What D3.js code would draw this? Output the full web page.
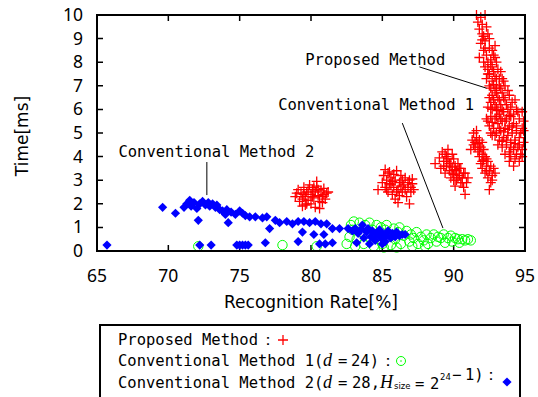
<!DOCTYPE html>
<html>
<head>
<meta charset="utf-8">
<script src="https://cdn.jsdelivr.net/npm/d3@7"></script>
<style>
  body { margin: 0; background: #fff; }
  svg { display: block; }
  .tick-label { font-family: "Noto Sans", sans-serif; font-size: 17.5px; fill: #000; }
  .axis-title { font-family: "DejaVu Sans", sans-serif; font-size: 17px; fill: #000; }
  .mono { font-family: "DejaVu Sans Mono", monospace; font-size: 15.5px; fill: #000; }
</style>
</head>
<body>
<div id="chart"></div>
<script>
// x = recognition rate [%], y = time [ms]
const proposedPoints = [
  // cluster near 80 %
  [78.9,2.3],[79.1,2.6],[79.2,2.1],[79.3,2.45],[79.4,1.9],[79.5,2.7],[79.6,2.3],[79.7,2.5],[79.8,2.15],[79.9,2.8],
  [80.0,2.4],[80.0,2.0],[80.1,2.6],[80.2,2.25],[80.3,2.5],[80.3,1.85],[80.4,2.75],[80.5,2.35],[80.6,2.1],[80.7,2.55],
  [80.8,2.3],[80.9,2.65],[81.0,2.2],[81.1,2.45],[80.4,2.95],[79.6,1.95],[81.2,2.5],[80.6,1.8],
  [79.0,2.45],[79.4,2.2],[79.8,2.6],[80.1,2.3],[80.5,2.6],[80.8,2.05],[80.2,2.7],[79.7,2.0],[80.9,2.4],[79.5,2.4],
  // cluster near 86 %
  [84.7,2.6],[85.0,2.9],[85.1,3.2],[85.2,2.7],[85.3,3.0],[85.4,2.5],[85.4,3.3],[85.5,2.85],[85.6,3.1],[85.7,2.4],
  [85.8,2.7],[85.9,3.0],[85.9,2.2],[86.0,3.4],[86.1,2.6],[86.2,2.9],[86.3,3.2],[86.4,2.5],[86.5,2.8],[86.6,3.1],
  [86.7,2.3],[86.8,2.7],[86.9,3.0],[87.0,2.5],[87.1,2.85],[87.2,2.6],[86.9,2.0],[86.1,2.05],[85.2,3.45],[87.1,3.05],
  [85.3,2.6],[85.6,2.8],[85.8,3.25],[86.0,2.5],[86.3,2.75],[86.6,2.6],[86.8,2.9],[85.5,3.35],[86.4,3.0],[87.0,2.7],
  [85.7,2.95],[86.2,2.35],
  // cluster near 90 %
  [88.7,3.7],[89.0,3.95],[89.1,3.5],[89.2,4.2],[89.3,3.8],[89.4,3.3],[89.5,4.0],[89.5,3.6],[89.6,3.9],[89.7,3.4],
  [89.8,3.7],[89.8,3.1],[89.9,3.55],[90.0,3.9],[90.0,3.25],[90.1,3.6],[90.2,3.0],[90.2,3.4],[90.3,3.7],[90.4,3.2],
  [90.5,2.9],[90.5,3.5],[90.6,3.1],[90.7,2.7],[90.8,3.3],[90.8,2.4],[90.9,2.9],[91.0,3.1],[89.6,4.3],[90.1,2.75],
  [89.3,3.6],[89.5,3.8],[89.7,3.7],[89.9,3.3],[90.1,3.45],[90.3,3.1],[90.4,3.5],[90.6,2.9],[89.4,4.1],[90.0,3.0],
  [90.7,3.3],[89.9,4.1],
  // cluster near 92 %
  [91.3,4.7],[91.4,5.0],[91.5,4.4],[91.6,4.8],[91.7,4.2],[91.7,4.55],[91.8,4.0],[91.9,4.4],[91.9,3.7],[92.0,4.1],
  [92.0,3.5],[92.1,3.85],[92.2,3.3],[92.2,4.0],[92.3,3.6],[92.4,3.1],[92.4,3.8],[92.5,3.4],[92.6,2.9],[92.7,3.2],
  [92.8,3.5],[91.2,4.3],[92.5,2.6],[91.6,5.1],
  [91.5,4.6],[91.8,4.7],[91.8,4.3],[92.0,3.8],[92.1,4.3],[92.3,3.4],[92.3,3.9],[92.6,3.6],[92.7,3.0],[91.4,4.5],
  [92.0,4.6],[92.9,3.3],
  // long streak 92-95 %
  [91.6,10.0],[91.9,9.9],[91.8,9.4],[92.0,9.2],[91.9,8.8],[92.2,8.9],[92.1,8.5],[92.3,8.3],[91.8,8.2],[92.4,8.0],
  [92.2,7.8],[92.6,7.9],[92.5,7.5],[92.8,7.6],[92.3,7.3],[92.7,7.2],[93.0,7.3],[92.6,6.9],[92.9,6.8],[93.2,7.0],
  [92.5,6.5],[92.8,6.4],[93.1,6.5],[93.4,6.7],[92.4,6.1],[92.7,6.0],[93.0,6.1],[93.3,6.2],[93.6,6.4],[92.6,5.7],
  [92.9,5.6],[93.2,5.8],[93.5,5.9],[93.8,6.0],[92.5,5.3],[92.8,5.2],[93.1,5.4],[93.4,5.5],[93.7,5.6],[94.0,5.7],
  [92.7,4.9],[93.0,5.0],[93.3,5.1],[93.6,5.2],[93.9,5.3],[94.2,5.4],[93.2,4.7],[93.5,4.8],[93.8,4.9],[94.1,5.0],
  [94.4,5.1],[93.4,4.4],[93.7,4.5],[94.0,4.6],[94.3,4.7],[94.6,4.8],[93.9,4.2],[94.2,4.3],[94.5,4.4],[94.7,4.1],
  [94.3,3.9],[94.8,5.2],[94.6,5.6],[94.4,6.0],[94.1,6.3],[93.9,6.6],[93.6,7.0],[93.3,7.6],[93.0,8.0],[92.7,8.5],
  [92.5,9.0],[92.3,9.5],[92.9,8.7],[93.4,7.3],[94.9,4.6],[94.2,3.6],[92.2,10.0],[94.9,5.5],[94.8,4.0],[92.3,5.6],
  [91.7,9.7],[92.0,9.6],[92.1,9.1],[92.4,9.2],[92.0,8.95],[92.2,8.6],[92.5,8.6],[92.8,8.3],[92.1,8.0],[92.6,8.1],
  [92.9,8.2],[92.4,7.7],[92.7,7.8],[92.4,7.5],[92.9,7.4],[93.1,7.7],[93.2,7.3],[92.5,7.0],[92.8,7.05],[93.0,6.9],
  [93.3,6.9],[93.5,7.2],[92.7,6.6],[93.0,6.7],[93.2,6.4],[93.5,6.5],[93.8,6.8],[92.6,6.3],[92.6,6.05],[92.9,6.2],
  [93.1,5.95],[93.4,6.0],[93.7,6.2],[94.0,6.1],[94.3,6.4],[92.4,5.5],[92.7,5.45],[93.0,5.7],[93.3,5.6],[93.6,5.5],
  [93.9,5.75],[94.2,5.8],[94.5,5.9],[94.8,5.9],[92.6,5.0],[92.9,4.9],[93.2,5.2],[93.5,5.05],[93.8,5.15],[94.1,5.25],
  [94.4,5.3],[94.7,5.0],[94.9,5.1],[93.1,4.5],[93.4,4.65],[93.7,4.7],[94.0,4.4],[94.3,4.55],[94.6,4.5],[94.8,4.3],
  [93.6,4.1],[94.0,4.0],[94.4,4.1],[94.6,3.8],[93.9,3.8]
];

const conv1Points = [
  [72.1,0.2],[78.0,0.25],[80.4,0.2],
  [82.5,0.3],[82.7,0.6],[82.8,1.1],[82.9,0.9],[83.0,1.25],[83.1,0.2],[83.2,0.5],[83.4,1.2],[83.5,0.8],[83.7,0.3],
  [83.8,1.1],[84.0,0.6],[84.1,1.2],[84.3,0.9],[84.4,0.2],[84.6,1.1],[84.7,0.5],[84.9,1.0],[85.0,0.3],[85.2,0.9],
  [85.3,1.1],[85.5,0.6],[85.6,0.25],[85.8,0.95],[85.9,0.5],[86.1,0.8],[86.2,1.0],[86.3,0.3],[86.5,0.65],[86.7,0.85],
  [86.9,0.4],[87.0,0.7],[87.2,0.55],[87.4,0.8],[87.5,0.3],[87.7,0.6],[87.9,0.45],[88.1,0.7],[88.2,0.3],[88.4,0.55],
  [88.6,0.7],[88.8,0.4],[88.9,0.6],[89.1,0.55],[89.3,0.7],[89.4,0.35],[89.6,0.55],[89.8,0.65],[89.9,0.4],[90.1,0.55],
  [90.3,0.5],[90.4,0.35],[90.6,0.5],[90.8,0.45],[91.0,0.5],[91.2,0.45],[87.1,0.2],[88.0,0.2],[85.1,0.15],[86.0,0.15]
];

const conv2Points = [
  [65.7,0.25],[69.6,1.85],[70.5,1.6],[71.1,1.85],[71.3,2.0],[71.5,2.15],[71.6,1.9],[71.8,2.05],[72.0,1.8],[72.1,1.3],
  [72.2,2.0],[72.4,2.1],[72.6,1.95],[72.8,2.05],[72.9,1.9],[73.1,2.0],[73.3,1.85],[73.4,1.95],[73.6,1.75],[73.8,1.7],
  [74.0,1.55],[74.1,1.75],[74.2,1.2],[74.4,1.65],[74.7,1.55],[75.0,1.7],[75.2,1.6],[75.4,1.5],[75.7,1.45],[76.1,1.45],
  [76.6,1.4],[76.9,1.45],[77.1,0.95],[77.5,1.3],[77.8,1.2],[78.3,1.25],[78.7,1.15],[79.1,1.25],[79.5,1.25],[79.9,1.2],
  [80.3,1.25],[80.7,1.15],[81.1,1.15],[81.5,0.95],[82.0,0.95],[79.4,0.8],[79.1,0.4],[80.2,0.7],[80.9,0.7],[80.6,0.3],
  [81.0,0.3],[81.5,0.35],[72.2,0.25],[73.0,0.25],[74.8,0.25],[75.0,0.25],[75.2,0.25],[75.4,0.25],[75.6,0.25],[76.8,0.35],
  [82.6,0.95],[82.9,0.85],[83.1,0.95],[83.3,0.75],[83.2,0.35],[83.5,0.9],[83.7,0.55],[83.9,0.8],[84.0,0.95],[84.2,0.6],
  [84.3,0.85],[84.5,0.45],[84.6,0.7],[84.8,0.9],[84.9,0.55],[85.0,0.75],[85.2,0.4],[85.3,0.65],[85.4,0.85],[85.6,0.55],
  [85.7,0.75],[85.9,0.6],[86.0,0.8],[86.2,0.65],[86.4,0.7],[86.6,0.7],[84.1,0.3],[85.0,0.3],[83.6,1.1]
];

const xTicks = [65, 70, 75, 80, 85, 90, 95];
const yTicks = [0, 1, 2, 3, 4, 5, 6, 7, 8, 9, 10];

// annotation labels: text, text anchor point, arrow line from -> to (data coords)
const annotations = [
  {text: "Proposed Method", at: [79.6, 8.1], from: [87.6, 7.8], to: [92.3, 6.9]},
  {text: "Conventional Method 1", at: [77.7, 6.2], from: [86.4, 5.42], to: [89.25, 0.97]},
  {text: "Conventional Method 2", at: [66.5, 4.2], from: [72.7, 3.77], to: [72.7, 2.37]}
];

const W = 538, H = 397;
const margin = {top: 15, right: 13, bottom: 146, left: 97};
const width = W - margin.left - margin.right;
const height = H - margin.top - margin.bottom;

const svg = d3.select("#chart").append("svg")
  .attr("width", W).attr("height", H);

const g = svg.append("g").attr("transform", `translate(${margin.left},${margin.top})`);

const x = d3.scaleLinear().domain([65, 95]).range([0, width]);
const y = d3.scaleLinear().domain([0, 10]).range([height, 0]);

// ticks, mirrored on all four sides, pointing inwards
const tl = 6;
g.selectAll(".xt").data(xTicks).enter().append("path")
  .attr("d", d => `M${x(d)},${height}v${-tl}M${x(d)},0v${tl}`)
  .attr("stroke", "#000").attr("stroke-width", 1.5);
g.selectAll(".yt").data(yTicks).enter().append("path")
  .attr("d", d => `M0,${y(d)}h${tl}M${width},${y(d)}h${-tl}`)
  .attr("stroke", "#000").attr("stroke-width", 1.5);

g.selectAll(".xl").data(xTicks).enter().append("text")
  .attr("class", "tick-label")
  .attr("x", d => x(d)).attr("y", height + 31)
  .attr("text-anchor", "middle")
  .text(d => d);
g.selectAll(".yl").data(yTicks).enter().append("text")
  .attr("class", "tick-label")
  .attr("x", -14).attr("y", d => y(d) + 6)
  .attr("text-anchor", "end")
  .text(d => d);

// axis titles
svg.append("text").attr("class", "axis-title")
  .attr("transform", `translate(28,${margin.top + height / 2 + 3}) rotate(-90)`)
  .attr("text-anchor", "middle")
  .text("Time[ms]");
svg.append("text").attr("class", "axis-title")
  .attr("x", 311).attr("y", 308)
  .attr("text-anchor", "middle")
  .text("Recognition Rate[%]");

// markers
const plusPath = s => `M${-s},0H${s}M0,${-s}V${s}`;
const diamond = d3.symbol().type(d3.symbolDiamond2).size(54);

const plot = g.append("g");
plot.selectAll(".p").data(proposedPoints).enter().append("path")
  .attr("transform", d => `translate(${x(d[0])},${y(d[1])})`)
  .attr("d", plusPath(5))
  .attr("stroke", "#ff0000").attr("stroke-width", 1.3).attr("fill", "none");

plot.selectAll(".c1").data(conv1Points).enter().append("circle")
  .attr("cx", d => x(d[0])).attr("cy", d => y(d[1]))
  .attr("r", 4.7)
  .attr("fill", "none").attr("stroke", "#00ff00").attr("stroke-width", 1);

plot.selectAll(".c2").data(conv2Points).enter().append("path")
  .attr("transform", d => `translate(${x(d[0])},${y(d[1])})`)
  .attr("d", diamond)
  .attr("fill", "#0000ff");

// annotations
annotations.forEach(a => {
  g.append("line")
    .attr("x1", x(a.from[0])).attr("y1", y(a.from[1]))
    .attr("x2", x(a.to[0])).attr("y2", y(a.to[1]))
    .attr("stroke", "#000").attr("stroke-width", 1);
  g.append("text").attr("class", "mono")
    .attr("x", x(a.at[0])).attr("y", y(a.at[1]) + 5)
    .text(a.text);
});

// border
g.append("rect")
  .attr("width", width).attr("height", height)
  .attr("fill", "none").attr("stroke", "#000").attr("stroke-width", 2);

// legend
const leg = svg.append("g");
leg.append("rect")
  .attr("x", 100).attr("y", 325).attr("width", 420).attr("height", 80)
  .attr("fill", "#fff").attr("stroke", "#000").attr("stroke-width", 2);

const serifStyle = 'font-family:"Liberation Serif",serif;font-style:italic;font-size:18px';
const smallStyle = 'font-family:"DejaVu Sans",sans-serif;font-size:8.5px';

function legendLine(yPos, parts) {
  const t = leg.append("text").attr("class", "mono").attr("y", yPos);
  parts.forEach(p => {
    const s = t.append("tspan").attr("x", p[0]).text(p[1]);
    if (p[2]) s.attr("style", p[2]);
    if (p[3] !== undefined) s.attr("y", yPos + p[3]);
  });
}

legendLine(345, [[118, "Proposed Method"], [260, "："]]);
leg.append("path").attr("transform", "translate(283,340)").attr("d", plusPath(5))
  .attr("stroke", "#ff0000").attr("stroke-width", 1.3);

legendLine(366, [[118, "Conventional Method 1("], [323, "d", serifStyle], [338, "="], [351, "24)"],
  [380, "："]]);
leg.append("circle").attr("cx", 401).attr("cy", 361).attr("r", 4.5)
  .attr("fill", "none").attr("stroke", "#00ff00").attr("stroke-width", 1);
leg.append("circle").attr("cx", 401).attr("cy", 361).attr("r", 0.8).attr("fill", "#00ff00");

legendLine(388, [[118, "Conventional Method 2("], [323, "d", serifStyle], [338, "="], [352, "28,"],
  [380, "H", serifStyle], [394, "size", smallStyle, 1], [415, "="], [430, "2"],
  [440, "24", smallStyle, -8], [452, "−"], [465, "1)"], [483, "："]]);
leg.append("path").attr("transform", "translate(507,382)").attr("d", diamond)
  .attr("fill", "#0000ff");
</script>
</body>
</html>
